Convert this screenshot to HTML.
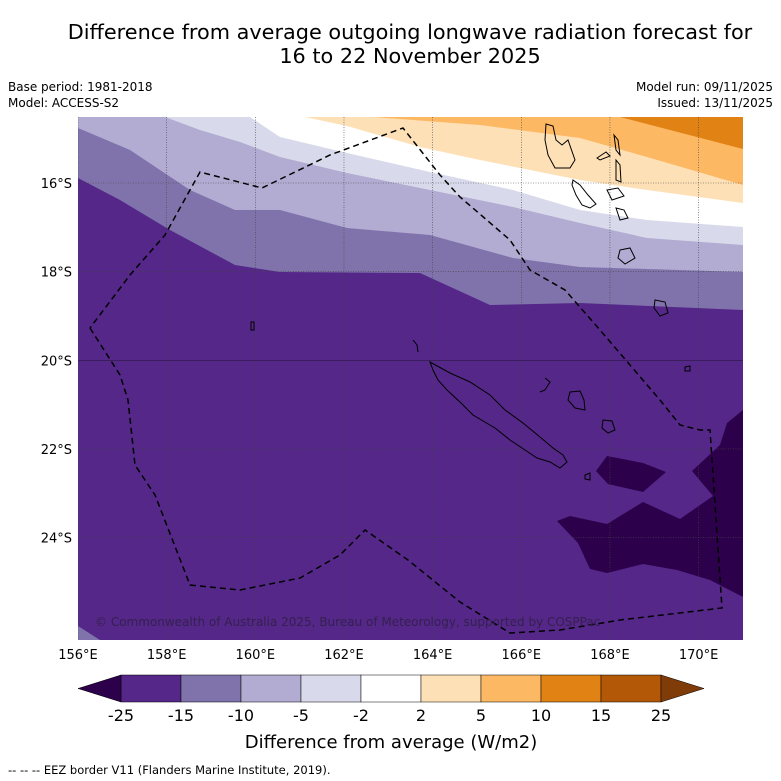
<!DOCTYPE html>
<html><head><meta charset="utf-8"><style>
html,body{margin:0;padding:0;background:#fff;overflow:hidden;width:781px;height:781px;}
svg{display:block;}
svg text{font-family:"DejaVu Sans","Liberation Sans",sans-serif;}
</style></head><body>
<svg id="chart" width="781" height="781" viewBox="0 0 781 781" xmlns="http://www.w3.org/2000/svg">
<rect width="781" height="781" fill="#fff"/>
<text x="410" y="39" font-size="20.8" text-anchor="middle" fill="#000">Difference from average outgoing longwave radiation forecast for</text>
<text x="410" y="63" font-size="20.8" text-anchor="middle" fill="#000">16 to 22 November 2025</text>
<text x="8" y="91" font-size="12">Base period: 1981-2018</text>
<text x="8" y="107" font-size="12">Model: ACCESS-S2</text>
<text x="773" y="91" font-size="12" text-anchor="end">Model run: 09/11/2025</text>
<text x="773" y="107" font-size="12" text-anchor="end">Issued: 13/11/2025</text>
<defs><clipPath id="mapclip"><rect x="78" y="117" width="665" height="523"/></clipPath></defs>
<g id="map" clip-path="url(#mapclip)">
<rect x="78" y="117" width="665" height="523" fill="#542788"/>
<polygon fill="#8073ac" points="78,117 78,178 120,200 170,230 235,265 280,272 420,273 490,305 580,303 743,310 743,117"/>
<polygon fill="#b2abd2" points="78,117 78,128 130,150 190,190 235,210 280,210 347,228 430,235 513,258 580,267 743,272 743,117"/>
<polygon fill="#d8daeb" points="165,117 200,130 240,142 280,157 347,173 430,190 513,207 580,223 647,238 743,245 743,117"/>
<polygon fill="#ffffff" points="250,117 280,137 347,153 430,172 513,190 580,210 647,220 743,227 743,117"/>
<polygon fill="#fee0b6" points="305,117 347,126 420,147 480,160 580,180 647,190 743,203 743,117"/>
<polygon fill="#fdb863" points="373,117 480,125 580,138 647,157 743,185 743,117"/>
<polygon fill="#e08214" points="620,117 743,149 743,117"/>
<polygon fill="#2d004b" points="607,456 643,463 666,472 643,492 608,484 596,471"/>
<polygon fill="#2d004b" points="743,410 727,423 720,445 692,471 713,496 680,519 643,502 607,524 570,516 557,521 578,543 590,569 607,573 643,564 677,570 710,580 743,597"/>
<polygon fill="#8073ac" points="78,626 100,640 78,640"/>
<g id="grid" stroke="#444" stroke-width="0.6" stroke-dasharray="1,1.5" fill="none"></g>
<g fill="none" stroke="#000" stroke-width="1">
<path d="M430,362 L450,373 L470,382 L490,395 L505,410 L523,423 L540,437 L553,448 L563,455 L567,462 L560,468 L550,462 L537,458 L525,450 L510,440 L495,428 L473,415 L460,402 L447,390 L438,380 L433,370 Z"/>
<path d="M413,340 L417,345 L418,352"/>
<path d="M545,378 L550,382 L545,390 L540,392"/>
<path d="M570,392 L580,391 L584,400 L585,410 L575,408 L568,400 Z"/>
<path d="M603,420 L612,421 L615,430 L608,433 L602,428 Z"/>
<path d="M585,475 L590,473 L590,480 L585,479 Z"/>
<path d="M546,124 L553,126 L556,140 L562,145 L568,140 L575,160 L570,168 L555,168 L548,155 L545,140 Z"/>
<path d="M573,180 L580,185 L588,195 L596,204 L590,208 L582,205 L576,195 L572,185 Z"/>
<path d="M614,135 L618,140 L620,155 L616,150 Z"/>
<path d="M616,160 L620,165 L621,182 L616,180 Z"/>
<path d="M597,158 L606,152 L610,156 L600,160 Z"/>
<path d="M607,190 L618,188 L624,196 L612,200 Z"/>
<path d="M616,208 L624,210 L628,218 L620,220 Z"/>
<path d="M620,250 L630,248 L635,258 L625,264 L618,258 Z"/>
<path d="M655,300 L665,302 L668,313 L660,316 L654,308 Z"/>
<path d="M685,367 L690,366 L690,371 L685,371 Z"/>
<path d="M251,322 L254,322 L254,330 L251,330 Z"/>
</g>
<polyline fill="none" stroke="#000" stroke-width="1.5" stroke-dasharray="6,4" points="90,328 120,375 128,400 135,465 155,495 190,585 240,590 300,578 340,555 365,530 408,560 460,602 510,633 560,630 620,620 722,608 710,430 700,430 680,425 660,400 600,330 565,290 530,270 510,240 460,197 440,175 403,128 330,155 262,188 200,172 165,235 130,275 90,328"/>
<text x="95" y="626" font-size="12" fill="#35204f">© Commonwealth of Australia 2025, Bureau of Meteorology, supported by COSPPac</text>
</g>
<g id="ticks" font-size="13"></g>
<g id="cbar"></g>
<text x="391" y="748" font-size="18" text-anchor="middle">Difference from average (W/m2)</text>
<text x="8" y="774" font-size="11.5">--  --  -- EEZ border V11 (Flanders Marine Institute, 2019).</text>
</svg>
<script>
const lonTicks=[156,158,160,162,164,166,168,170];
const latTicks=[16,18,20,22,24];
const cbLevels=[-25,-15,-10,-5,-2,2,5,10,15,25];
const cbColors=["#542788","#8073ac","#b2abd2","#d8daeb","#ffffff","#fee0b6","#fdb863","#e08214","#b35806"];
const cbExtendColors=["#2d004b","#7f3b08"];
const NS="http://www.w3.org/2000/svg";
const xLon=l=>78+(l-156)*44.33;
const yLat=l=>183+(l-16)*44.33;
function mk(t,a,p){const e=document.createElementNS(NS,t);for(const k in a)e.setAttribute(k,a[k]);p.appendChild(e);return e;}
const grid=document.getElementById('grid'),ticks=document.getElementById('ticks');
lonTicks.forEach(l=>{
 const ln=mk('line',{x1:xLon(l),x2:xLon(l),y1:117,y2:640},grid);
 
 
 const t=mk('text',{x:xLon(l),y:659,'text-anchor':'middle'},ticks);t.textContent=l+'°E';
 
 
});
latTicks.forEach(l=>{
 const attrs={x1:78,x2:743,y1:yLat(l),y2:yLat(l)};
 if(l===20){attrs['stroke-dasharray']='none';attrs['stroke']='#2a1a40';}
 const ln=mk('line',attrs,grid);
 
 
 const t=mk('text',{x:72,y:yLat(l)+5,'text-anchor':'end'},ticks);t.textContent=l+'°S';
 
 
});
const cb=document.getElementById('cbar');
const x0=121,w=60,y0=675,h=27;
cbColors.forEach((c,i)=>{
 const r=mk('rect',{x:x0+i*w,y:y0,width:w,height:h,fill:c,stroke:'#000','stroke-width':0.5},cb);
 
 
});
const xe=x0+cbColors.length*w;
const lt=mk('polygon',{points:`${x0},${y0} 78,${y0+h/2} ${x0},${y0+h}`,fill:cbExtendColors[0],stroke:'#000','stroke-width':0.5},cb);


const rt=mk('polygon',{points:`${xe},${y0} ${xe+43},${y0+h/2} ${xe},${y0+h}`,fill:cbExtendColors[1],stroke:'#000','stroke-width':0.5},cb);


cbLevels.forEach((v,i)=>{
 const t=mk('text',{x:x0+i*w,y:721,'font-size':16,'text-anchor':'middle'},cb);t.textContent=v;
 
 
});
</script>
</body></html>
